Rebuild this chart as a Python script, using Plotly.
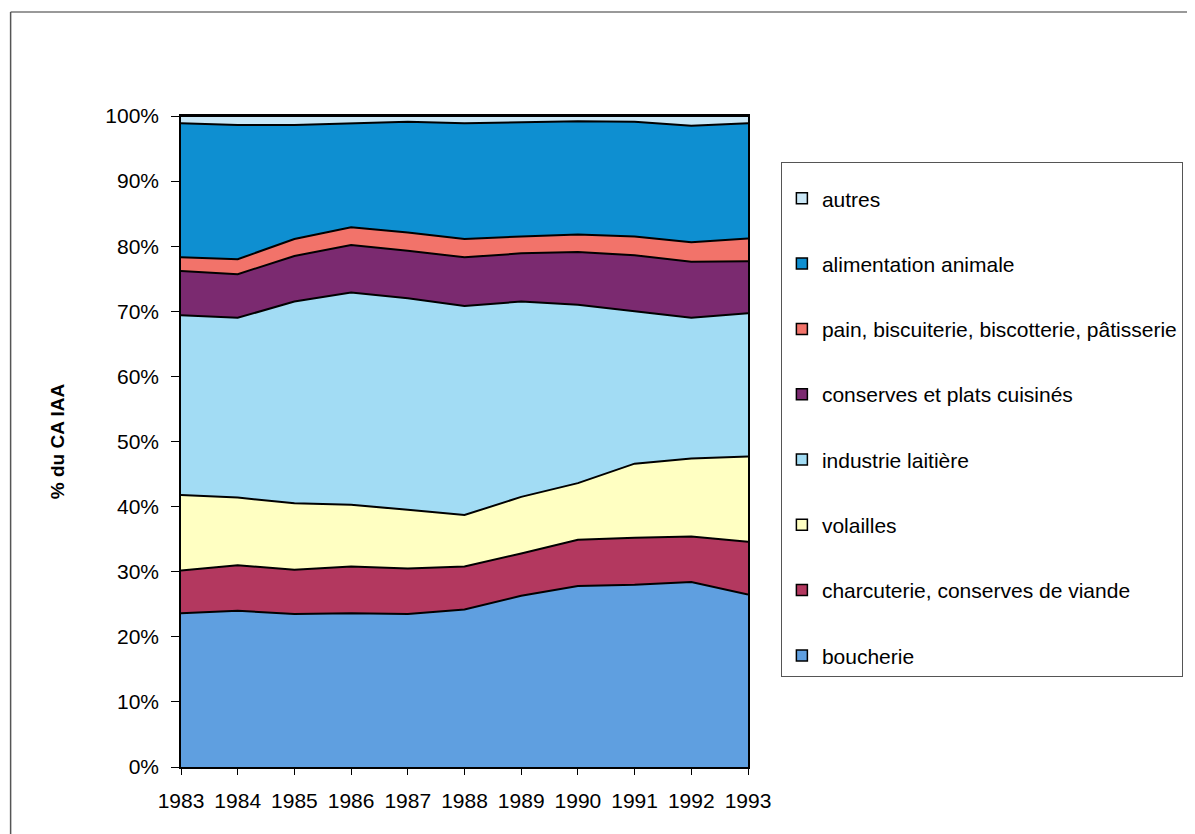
import plotly.graph_objects as go

annees = [1983, 1984, 1985, 1986, 1987, 1988, 1989, 1990, 1991, 1992, 1993]

# parts du CA IAA (%)
boucherie = [23.6, 24.0, 23.5, 23.6, 23.5, 24.2, 26.3, 27.8, 28.0, 28.4, 26.5]
charcuterie = [6.6, 7.0, 6.8, 7.2, 7.0, 6.6, 6.5, 7.1, 7.2, 7.0, 8.1]
volailles = [11.6, 10.4, 10.2, 9.5, 9.0, 7.9, 8.7, 8.7, 11.4, 12.0, 13.1]
industrie_laitiere = [27.6, 27.6, 31.0, 32.6, 32.5, 32.1, 30.0, 27.4, 23.4, 21.6, 22.0]
conserves = [6.8, 6.7, 7.0, 7.3, 7.3, 7.5, 7.4, 8.1, 8.6, 8.6, 8.0]
pain = [2.1, 2.3, 2.6, 2.7, 2.8, 2.8, 2.6, 2.7, 2.9, 3.0, 3.5]
alimentation_animale = [20.6, 20.6, 17.5, 16.0, 17.0, 17.8, 17.6, 17.4, 17.6, 17.9, 17.7]
autres = [1.1, 1.4, 1.4, 1.1, 0.9, 1.1, 0.9, 0.8, 0.9, 1.5, 1.1]

series = [
    ('boucherie', boucherie, '#5f9fe0'),
    ('charcuterie, conserves de viande', charcuterie, '#b3385f'),
    ('volailles', volailles, '#ffffc2'),
    ('industrie laitière', industrie_laitiere, '#a2dcf4'),
    ('conserves et plats cuisinés', conserves, '#7b2a70'),
    ('pain, biscuiterie, biscotterie, pâtisserie', pain, '#f2736a'),
    ('alimentation animale', alimentation_animale, '#0e8fd1'),
    ('autres', autres, '#cbe8f7'),
]

fig = go.Figure()

# aires empilées (100 %)
for nom, valeurs, couleur in series:
    fig.add_trace(
        go.Scatter(
            name=nom,
            x=annees,
            y=valeurs,
            mode='lines',
            stackgroup='ca',
            groupnorm='percent',
            fillcolor=couleur,
            line=dict(color='black', width=2),
            showlegend=False,
        )
    )

# entrées de légende (petits carrés), autres en haut
for rang, (nom, valeurs, couleur) in enumerate(series):
    fig.add_trace(
        go.Scatter(
            name=nom,
            x=[None],
            y=[None],
            mode='markers',
            marker=dict(symbol='square', size=11, color=couleur,
                        line=dict(color='black', width=1.5)),
            legendgroup=nom,
            legendrank=100 - rang,
        )
    )

fig.update_layout(
    width=1187,
    height=826,
    margin=dict(l=173, r=445, t=108, b=67),
    paper_bgcolor='white',
    plot_bgcolor='white',
    font=dict(family='Liberation Sans, Arial', size=21, color='black'),
    showlegend=True,
    legend=dict(
        x=1.058, y=0.93, xanchor='left', yanchor='top',
        traceorder='grouped',
        tracegroupgap=35,
        itemwidth=30,
        bordercolor='#555555', borderwidth=1,
        font=dict(size=21),
        title=dict(text=' ', font=dict(size=12)),
    ),
    shapes=[
        dict(type='line', xref='paper', yref='paper', x0=-0.3005, x1=1.8,
             y0=1.1598, y1=1.1598, line=dict(color='#777777', width=1.5)),
        dict(type='line', xref='paper', yref='paper', x0=-0.3005, x1=-0.3005,
             y0=1.1598, y1=-0.103, line=dict(color='#555555', width=1.5)),
    ],
)

fig.update_xaxes(
    range=[1983, 1993],
    tickmode='array',
    tickvals=annees,
    ticks='outside', ticklen=6, tickcolor='black',
    ticklabelstandoff=8,
    showline=True, linecolor='black', linewidth=1.5, mirror=True,
    showgrid=False, zeroline=False,
)

fig.update_yaxes(
    range=[0, 100],
    dtick=10,
    ticksuffix='%',
    ticks='outside', ticklen=8, tickcolor='black',
    ticklabelstandoff=8,
    showline=True, linecolor='black', linewidth=1.5, mirror=True,
    showgrid=False, zeroline=False,
    title=dict(text='<b>% du CA IAA</b>', standoff=36, font=dict(size=19)),
)

fig.write_html("out.html")
